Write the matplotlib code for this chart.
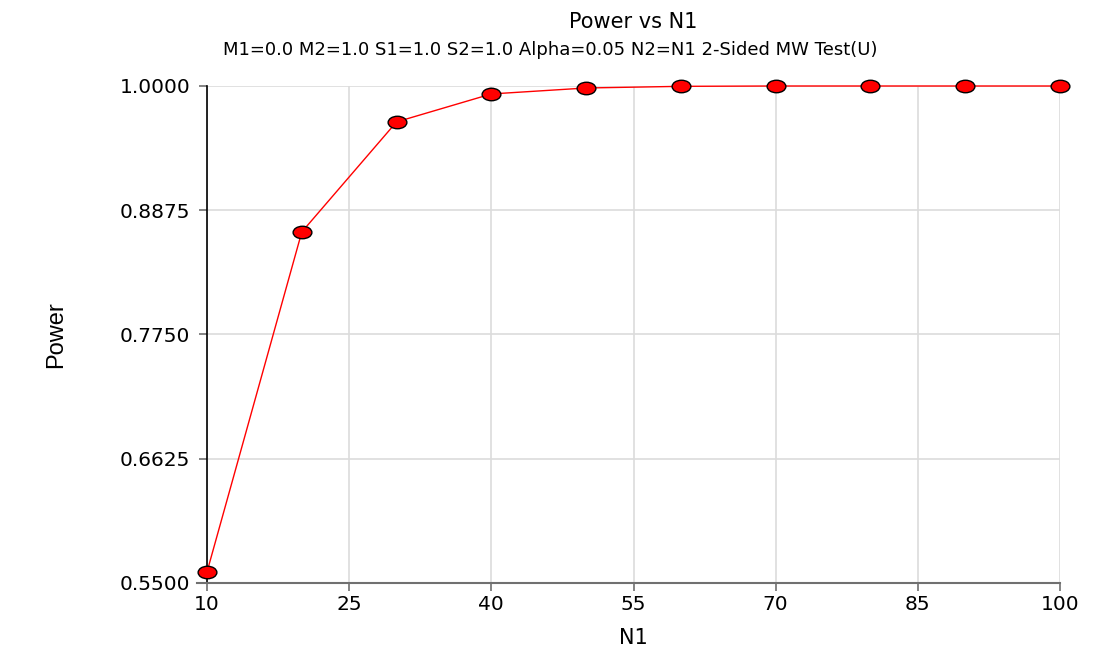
import matplotlib
matplotlib.use("Agg")
import matplotlib.pyplot as plt
import numpy as np
from matplotlib.path import Path
from matplotlib.markers import MarkerStyle
from matplotlib.transforms import Affine2D

n1 = [10, 20, 30, 40, 50, 60, 70, 80, 90, 100]
power = [0.5600, 0.8678, 0.9675, 0.9928, 0.9982, 0.9997, 1.0000, 1.0000, 1.0000, 1.0000]
xticks = [10, 25, 40, 55, 70, 85, 100]
yticks = [0.55, 0.6625, 0.775, 0.8875, 1.0]

plt.rcParams['font.family'] = ['DejaVu Sans']

fig = plt.figure(figsize=(10.98, 6.63), dpi=100)
ax = fig.add_axes([207/1098, 1-583/663, (1060-207)/1098, (583-86)/663])

ellipse = MarkerStyle(Path.unit_circle().transformed(Affine2D().scale(1.5, 1.0)))
ax.plot(n1, power, color='#ff0000', lw=1.0, marker=ellipse, markersize=13.5,
        markerfacecolor='#ff0000', markeredgecolor='black', markeredgewidth=1.0,
        zorder=3, clip_on=False)

ax.set_xlim(10, 100)
ax.set_ylim(0.55, 1.0)
ax.set_xticks(xticks)
ax.set_yticks(yticks)
ax.set_yticklabels([f"{v:.4f}" for v in yticks])
ax.grid(True, color='#dcdcdc', lw=1.2)
ax.set_axisbelow(True)
for s in ['top', 'right']:
    ax.spines[s].set_visible(False)
ax.spines['left'].set_color('black')
ax.spines['left'].set_linewidth(1.2)
ax.spines['bottom'].set_color('#707070')
ax.spines['bottom'].set_linewidth(1.5)
ax.spines['bottom'].set_bounds(8.9, 100)
ax.tick_params(axis='both', colors='#707070', labelcolor='black', labelsize=14.5, length=6, width=1.2)
ax.tick_params(axis='x', pad=3)
ax.tick_params(axis='y', pad=6)

ax.set_xlabel('N1', fontsize=15, labelpad=10)
ax.set_ylabel('Power', fontsize=17, labelpad=38, fontfamily='Liberation Sans')
fig.text(633/1098, 1-22/663, 'Power vs N1', ha='center', va='center', fontsize=15)
fig.text(550/1098, 1-50/663, 'M1=0.0 M2=1.0 S1=1.0 S2=1.0 Alpha=0.05 N2=N1 2-Sided MW Test(U)',
         ha='center', va='center', fontsize=13)

fig.savefig('out.png', dpi=100)
